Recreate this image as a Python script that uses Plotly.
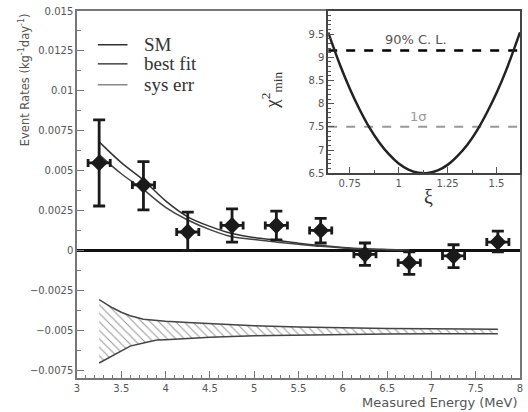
import plotly.graph_objects as go

# ---- data ----
energy = [3.25, 3.75, 4.25, 4.75, 5.25, 5.75, 6.25, 6.75, 7.25, 7.75]
rate = [0.00548, 0.0041, 0.00115, 0.00156, 0.00156, 0.00125, -0.00025, -0.00077, -0.00035, 0.00052]
err_up = [0.0027, 0.00146, 0.00125, 0.00104, 0.0009, 0.00075, 0.00071, 0.00067, 0.0007, 0.00068]
err_dn = [0.0027, 0.00156, 0.00115, 0.00104, 0.0009, 0.00079, 0.00069, 0.00073, 0.00073, 0.00062]
e_half = [0.125] * 10

curve_e = [3.25, 3.5, 3.75, 4.0, 4.25, 4.5, 4.75, 5.0, 5.25, 5.5, 5.75, 6.0, 6.25, 6.5, 6.75]
sm_rate = [0.0068, 0.0055, 0.0044, 0.0031, 0.0021, 0.0015, 0.00105, 0.0008, 0.00063,
           0.00045, 0.0003, 0.00018, 0.0001, 0.00005, 0.00002]
fit_rate = [0.0060, 0.0048, 0.0038, 0.0027, 0.0019, 0.0013, 0.00085, 0.00068, 0.00052,
            0.00038, 0.00025, 0.00015, 0.00008, 0.00004, 0.00001]

band_e = [3.25, 3.4, 3.5, 3.6, 3.75, 3.9, 4.0, 4.25, 4.5, 5.0, 5.5, 6.0, 6.5, 7.0, 7.75]
band_hi = [-0.00309, -0.0036, -0.00388, -0.0041, -0.00432, -0.0044, -0.00445, -0.00452,
           -0.0046, -0.00472, -0.0048, -0.00486, -0.0049, -0.00492, -0.00494]
band_lo = [-0.00706, -0.0066, -0.0063, -0.0060, -0.0058, -0.00562, -0.0056, -0.00552,
           -0.00545, -0.00535, -0.0053, -0.00526, -0.00524, -0.00523, -0.00522]

xi = [0.64, 0.70, 0.75, 0.80, 0.85, 0.90, 0.95, 1.00, 1.05, 1.10, 1.15, 1.20, 1.25,
      1.30, 1.35, 1.40, 1.45, 1.50, 1.55, 1.62]
chi2 = [9.54, 8.84, 8.33, 7.88, 7.49, 7.17, 6.91, 6.71, 6.58, 6.51, 6.505, 6.56, 6.68,
        6.87, 7.11, 7.42, 7.80, 8.23, 8.73, 9.54]
xi_range = [0.64, 1.62]
cl90 = 9.15
sigma1 = 7.5

legend_names = ["SM", "best fit", "sys err"]
legend_colors = ["#333333", "#444444", "#888888"]

y_ticks = [0.015, 0.0125, 0.01, 0.0075, 0.005, 0.0025, 0, -0.0025, -0.005, -0.0075]
y_ticktext = ["0.015", "0.0125", "0.01", "0.0075", "0.005", "0.0025", "0",
              "\u22120.0025", "\u22120.005", "\u22120.0075"]
x_ticks = [3, 3.5, 4, 4.5, 5, 5.5, 6, 6.5, 7, 7.5, 8]
x_ticktext = ["3", "3.5", "4", "4.5", "5", "5.5", "6", "6.5", "7", "7.5", "8"]
ins_x_ticks = [0.75, 1, 1.25, 1.5]
ins_x_text = ["0.75", "1", "1.25", "1.5"]
ins_y_ticks = [6.5, 7, 7.5, 8, 8.5, 9, 9.5]
ins_y_text = ["6.5", "7", "7.5", "8", "8.5", "9", "9.5"]

SANS = "DejaVu Sans"
SERIF = "Liberation Serif"
TICKC = "#555555"

fig = go.Figure()

# systematic error band (hatched)
fig.add_trace(go.Scatter(x=band_e, y=band_hi, mode="lines", line=dict(color="#444", width=1.5),
                         showlegend=False, hoverinfo="skip"))
fig.add_trace(go.Scatter(x=band_e, y=band_lo, mode="lines", line=dict(color="#444", width=1.5),
                         fill="tonexty", fillcolor="rgba(0,0,0,0)",
                         fillpattern=dict(shape="\\", fgcolor="#333", bgcolor="white",
                                          size=6, solidity=0.18),
                         showlegend=False, hoverinfo="skip"))

# model curves
fig.add_trace(go.Scatter(x=curve_e, y=sm_rate, mode="lines",
                         line=dict(color=legend_colors[0], width=1.5, shape="spline"), showlegend=False))
fig.add_trace(go.Scatter(x=curve_e, y=fit_rate, mode="lines",
                         line=dict(color=legend_colors[1], width=1.5, shape="spline"), showlegend=False))

# data points
fig.add_trace(go.Scatter(x=energy, y=rate, mode="markers",
                         marker=dict(symbol="diamond", size=13, color="#1a1a1a"),
                         error_y=dict(type="data", symmetric=False, array=err_up, arrayminus=err_dn,
                                      thickness=2.8, width=6, color="#1a1a1a"),
                         error_x=dict(type="data", array=e_half, thickness=2.8, width=4, color="#1a1a1a"),
                         showlegend=False))

# inset
fig.add_trace(go.Scatter(x=xi_range, y=[cl90, cl90], xaxis="x2", yaxis="y2", mode="lines",
                         line=dict(color="black", width=2.5, dash="dash"), showlegend=False))
fig.add_trace(go.Scatter(x=xi_range, y=[sigma1, sigma1], xaxis="x2", yaxis="y2", mode="lines",
                         line=dict(color="#999", width=2, dash="dash"), showlegend=False))
fig.add_trace(go.Scatter(x=xi, y=chi2, xaxis="x2", yaxis="y2", mode="lines",
                         line=dict(color="#222", width=2.5, shape="spline"), showlegend=False))

# hand-placed legend (keys + labels)
legend_y = [0.908, 0.856, 0.799]
shapes = []
annotations = []
for name, col, ly in zip(legend_names, legend_colors, legend_y):
    shapes.append(dict(type="line", xref="paper", yref="paper", x0=0.047, x1=0.114, y0=ly, y1=ly,
                       line=dict(color=col, width=1.5)))
    annotations.append(dict(text=name, xref="paper", yref="paper", x=0.146, y=ly, xanchor="left",
                            yanchor="middle", showarrow=False,
                            font=dict(family=SERIF, size=19, color="#333")))

annotations += [
    dict(text="Event Rates (kg<sup>-1</sup>day<sup>-1</sup>)", textangle=-90,
         xref="paper", yref="paper", x=-0.118, y=1.0, xanchor="center", yanchor="top",
         showarrow=False, font=dict(family=SANS, size=11.5, color=TICKC)),
    dict(text="Measured Energy (MeV)", xref="paper", yref="paper", x=1, y=0,
         xanchor="right", yanchor="top", yshift=-15, showarrow=False,
         font=dict(family=SANS, size=13, color=TICKC)),
    dict(text="90% C. L.", xref="x2", yref="y2", x=1.09, y=cl90, yanchor="bottom", yshift=1,
         showarrow=False, font=dict(family=SANS, size=13, color="#555")),
    dict(text="1σ", xref="x2", yref="y2", x=1.10, y=sigma1, yanchor="bottom", yshift=1,
         showarrow=False, font=dict(family=SANS, size=13, color="#999")),
    dict(text="ξ", xref="x2", yref="paper", x=1.15, y=0.558, yanchor="top", yshift=-11,
         showarrow=False, font=dict(family=SERIF, size=20, color="#333")),
    dict(text="χ<sup>2</sup><sub>min</sub>", textangle=-90, xref="paper", yref="y2",
         x=0.44, y=8.3, showarrow=False, font=dict(family=SERIF, size=19, color="#333")),
]

fig.update_layout(
    width=528, height=412,
    margin=dict(l=77, r=5, t=9, b=34),
    paper_bgcolor="white", plot_bgcolor="white",
    showlegend=False,
    shapes=shapes,
    annotations=annotations,
    xaxis=dict(domain=[0, 1], range=[3, 8], tickvals=x_ticks, ticktext=x_ticktext,
               ticks="inside", ticklen=7, tickcolor="#777", tickwidth=1,
               minor=dict(dtick=0.1, ticks="inside", ticklen=3, tickcolor="#777"),
               showline=True, linecolor="#777", linewidth=1.5, mirror=True,
               showgrid=False, zeroline=False,
               tickfont=dict(family=SANS, size=10, color=TICKC)),
    yaxis=dict(domain=[0, 1], range=[-0.008, 0.015], tickvals=y_ticks, ticktext=y_ticktext,
               ticks="inside", ticklen=7, tickcolor="#777", tickwidth=1,
               minor=dict(dtick=0.00125, ticks="inside", ticklen=4, tickcolor="#777"),
               showline=True, linecolor="#777", linewidth=1.5, mirror=True,
               showgrid=False, zeroline=True, zerolinecolor="#111", zerolinewidth=3,
               ticklabeloverflow="allow",
               tickfont=dict(family=SANS, size=10, color=TICKC)),
    xaxis2=dict(domain=[0.567, 1], range=xi_range, anchor="y2",
                tickvals=ins_x_ticks, ticktext=ins_x_text,
                ticks="inside", ticklen=6, tickcolor="#555",
                minor=dict(dtick=0.125, tick0=0.75, ticks="inside", ticklen=3, tickcolor="#555"),
                showline=True, linecolor="#444", linewidth=1.5, mirror=True,
                showgrid=False, zeroline=False,
                tickfont=dict(family=SANS, size=10, color=TICKC)),
    yaxis2=dict(domain=[0.558, 1], range=[6.5, 10], anchor="x2",
                tickvals=ins_y_ticks, ticktext=ins_y_text,
                ticks="inside", ticklen=6, tickcolor="#555",
                minor=dict(dtick=0.1, ticks="inside", ticklen=3, tickcolor="#555"),
                showline=True, linecolor="#444", linewidth=1.5, mirror=True,
                showgrid=False, zeroline=False,
                tickfont=dict(family=SANS, size=10, color=TICKC)),
)

fig.write_html("out.html", config={"displayModeBar": False},
               post_script="document.body.style.margin='0';")
